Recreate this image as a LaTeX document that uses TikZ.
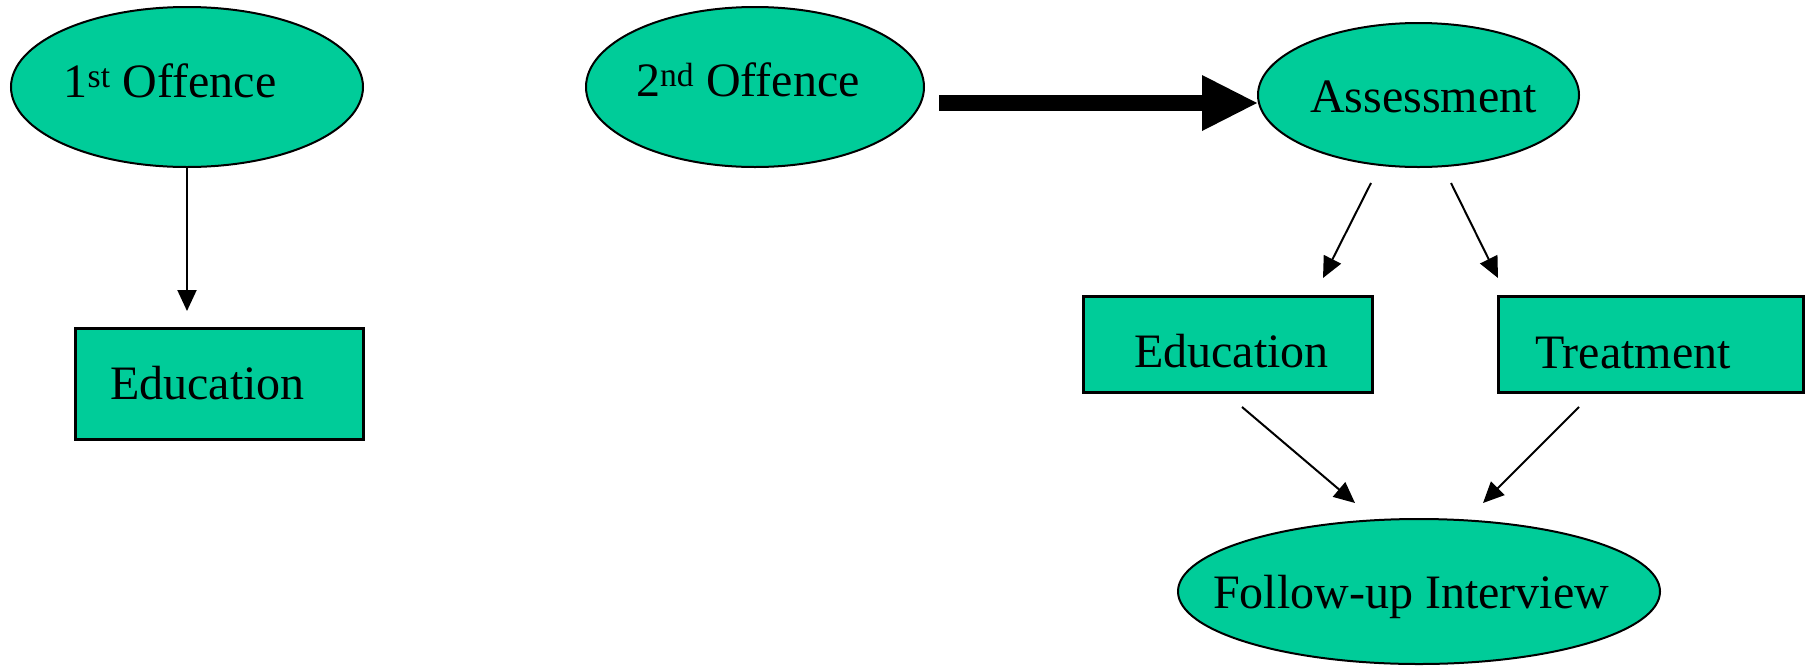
\documentclass[tikz,border=0pt]{standalone}
\usepackage{fontspec}
\setmainfont{Liberation Serif}
\usetikzlibrary{arrows.meta}
\usetikzlibrary{shapes.geometric}
\definecolor{ovalgreen}{RGB}{0,204,153}

\begin{document}
\begin{tikzpicture}[x=1pt, y=-1pt,
    oval/.style={ellipse, draw, line width=2pt, fill=ovalgreen, inner sep=0pt},
    box/.style={rectangle, draw, line width=3pt, fill=ovalgreen, inner sep=0pt},
    txt/.style={anchor=base, inner sep=0pt, font=\fontsize{48}{58}\selectfont},
    thinarrow/.style={line width=2pt, -{Triangle[length=21pt, width=19pt]}},
    bigarrow/.style={line width=16pt, -{Triangle[length=55pt, width=56pt, line width=0pt]}}]
    \useasboundingbox (0,0) rectangle (1813,665);
    % First offence
    \node [oval, minimum width=352pt, minimum height=160pt] (off1) at (187,87) {};
    \node [txt] (off1txt) at (170,97) {1\textsuperscript{st} Offence};
    \node [box, minimum width=288pt, minimum height=111pt] (edu1) at (219,383.5) {};
    \node [txt] (edu1txt) at (207.5,399) {Education};
    \coordinate (edu1tip) at (187,311);
    \draw [thinarrow] (off1.south) -- (edu1tip);
    % Second offence
    \node [oval, minimum width=338pt, minimum height=160pt] (off2) at (755,87) {};
    \node [txt] (off2txt) at (748,96) {2\textsuperscript{nd} Offence};
    \node [oval, minimum width=321pt, minimum height=144pt] (assess) at (1418.5,95) {};
    \node [txt] (assesstxt) at (1423.5,112) {Assessment};
    \coordinate (bigstart) at (939,103);
    \draw [bigarrow] (bigstart) -- (assess.west |- bigstart);
    % Education or treatment
    \node [box, minimum width=289pt, minimum height=96pt] (edu2) at (1227.5,344) {};
    \node [txt] (edu2txt) at (1231.5,367) {Education};
    \node [box, minimum width=305pt, minimum height=96pt] (treat) at (1650.5,344) {};
    \node [txt] (treattxt) at (1633,368) {Treatment};
    \coordinate (edu2from) at (1371,183);
    \coordinate (edu2tip) at (1323,278);
    \coordinate (treatfrom) at (1451,183);
    \coordinate (treattip) at (1498,278);
    \draw [thinarrow] (edu2from) -- (edu2tip);
    \draw [thinarrow] (treatfrom) -- (treattip);
    % Follow-up
    \node [oval, minimum width=482pt, minimum height=145pt] (follow) at (1419,591.5) {};
    \node [txt] (followtxt) at (1411,608) {Follow-up Interview};
    \coordinate (edu2out) at (1242,407);
    \coordinate (followtipl) at (1355,503);
    \coordinate (treatout) at (1579,407);
    \coordinate (followtipr) at (1483,503);
    \draw [thinarrow] (edu2out) -- (followtipl);
    \draw [thinarrow] (treatout) -- (followtipr);
\end{tikzpicture}
\end{document}
